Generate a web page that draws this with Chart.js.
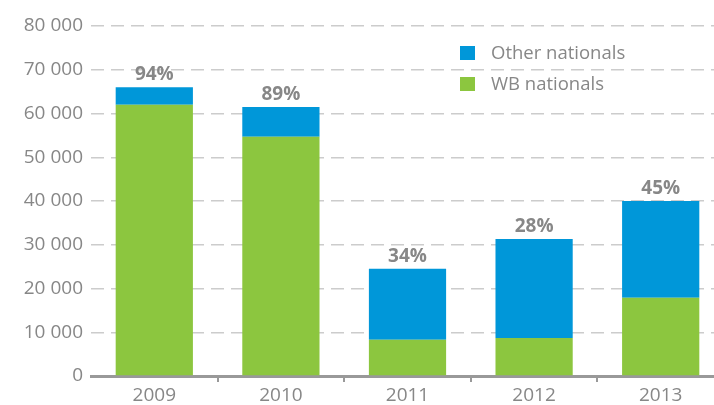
<!DOCTYPE html>
<html>
<head>
<meta charset="utf-8">
<script src="https://cdn.jsdelivr.net/npm/chart.js@4"></script>
<style>
    html, body { margin: 0; padding: 0; background: #fff; overflow: hidden; }
    #wrap { position: relative; width: 724px; height: 405px; }
</style>
</head>
<body>
<div id="wrap"><canvas id="migrantsChart"></canvas></div>
<script>
var years = ['2009', '2010', '2011', '2012', '2013'];
var wbNationals = [62000, 54700, 8300, 8700, 17900];
var otherNationals = [4000, 6800, 16200, 22600, 22100];
var shareLabels = ['94%', '89%', '34%', '28%', '45%'];
var seriesNames = ['WB nationals', 'Other nationals'];

var textGrey = '#878787';
var fontFamily = '"Open Sans", "DejaVu Sans", sans-serif';

function formatThousands(value) {
    return value.toString().replace(/\B(?=(\d{3})+(?!\d))/g, ' ');
}

// percentages above each stacked bar
var shareLabelPlugin = {
    id: 'shareLabels',
    afterDatasetsDraw: function (chart) {
        var ctx = chart.ctx;
        var meta = chart.getDatasetMeta(1);
        ctx.save();
        ctx.font = 'bold 19px ' + fontFamily;
        ctx.fillStyle = textGrey;
        ctx.textAlign = 'center';
        ctx.textBaseline = 'bottom';
        meta.data.forEach(function (bar, i) {
            ctx.fillText(shareLabels[i], bar.x, bar.y - 3);
        });
        ctx.restore();
    }
};

// legend inside the plot, top series first
var innerLegendPlugin = {
    id: 'innerLegend',
    afterDraw: function (chart) {
        var ctx = chart.ctx;
        var items = chart.data.datasets.slice().reverse();
        ctx.save();
        ctx.font = '18.5px ' + fontFamily;
        ctx.textBaseline = 'middle';
        items.forEach(function (ds, i) {
            var y = 53 + i * 31;
            ctx.fillStyle = ds.backgroundColor;
            ctx.fillRect(460, y - 7, 15, 14);
            ctx.fillStyle = textGrey;
            ctx.fillText(ds.label, 491, y + 1);
        });
        ctx.restore();
    }
};

var chartCtx = document.getElementById('migrantsChart').getContext('2d');
var migrantsChart = new Chart(chartCtx, {
    type: 'bar',
    data: {
        labels: years,
        datasets: [{
            label: seriesNames[0],
            data: wbNationals,
            backgroundColor: '#8cc63f',
            barPercentage: 0.61,
            categoryPercentage: 1
        }, {
            label: seriesNames[1],
            data: otherNationals,
            backgroundColor: '#0097d9',
            barPercentage: 0.61,
            categoryPercentage: 1
        }]
    },
    options: {
        responsive: true,
        maintainAspectRatio: false,
        animation: false,
        layout: {
            padding: { top: 26, right: 0, bottom: 0, left: 0 }
        },
        plugins: {
            legend: { display: false },
            tooltip: { enabled: false }
        },
        scales: {
            x: {
                stacked: true,
                afterFit: function (scale) { scale.height = 29; },
                grid: {
                    offset: true,
                    drawOnChartArea: false,
                    drawTicks: true,
                    tickLength: 6,
                    lineWidth: 2,
                    color: function (context) {
                        return context.index === 0 ? 'rgba(0,0,0,0)' : '#999999';
                    }
                },
                border: { display: true, color: '#999999', width: 3 },
                ticks: {
                    color: textGrey,
                    padding: 2,
                    font: { family: fontFamily, size: 19 }
                }
            },
            y: {
                stacked: true,
                min: 0,
                max: 80000,
                afterFit: function (scale) { scale.width = 91; },
                grid: {
                    drawTicks: false,
                    lineWidth: 1.5,
                    color: function (context) {
                        return context.tick && context.tick.value === 0 ? 'rgba(0,0,0,0)' : '#cccccc';
                    }
                },
                border: { display: false, dash: [13, 7] },
                ticks: {
                    stepSize: 10000,
                    padding: 8,
                    color: textGrey,
                    font: { family: fontFamily, size: 19 },
                    callback: function (value) { return formatThousands(value); }
                }
            }
        }
    },
    plugins: [shareLabelPlugin, innerLegendPlugin]
});
</script>
</body>
</html>
